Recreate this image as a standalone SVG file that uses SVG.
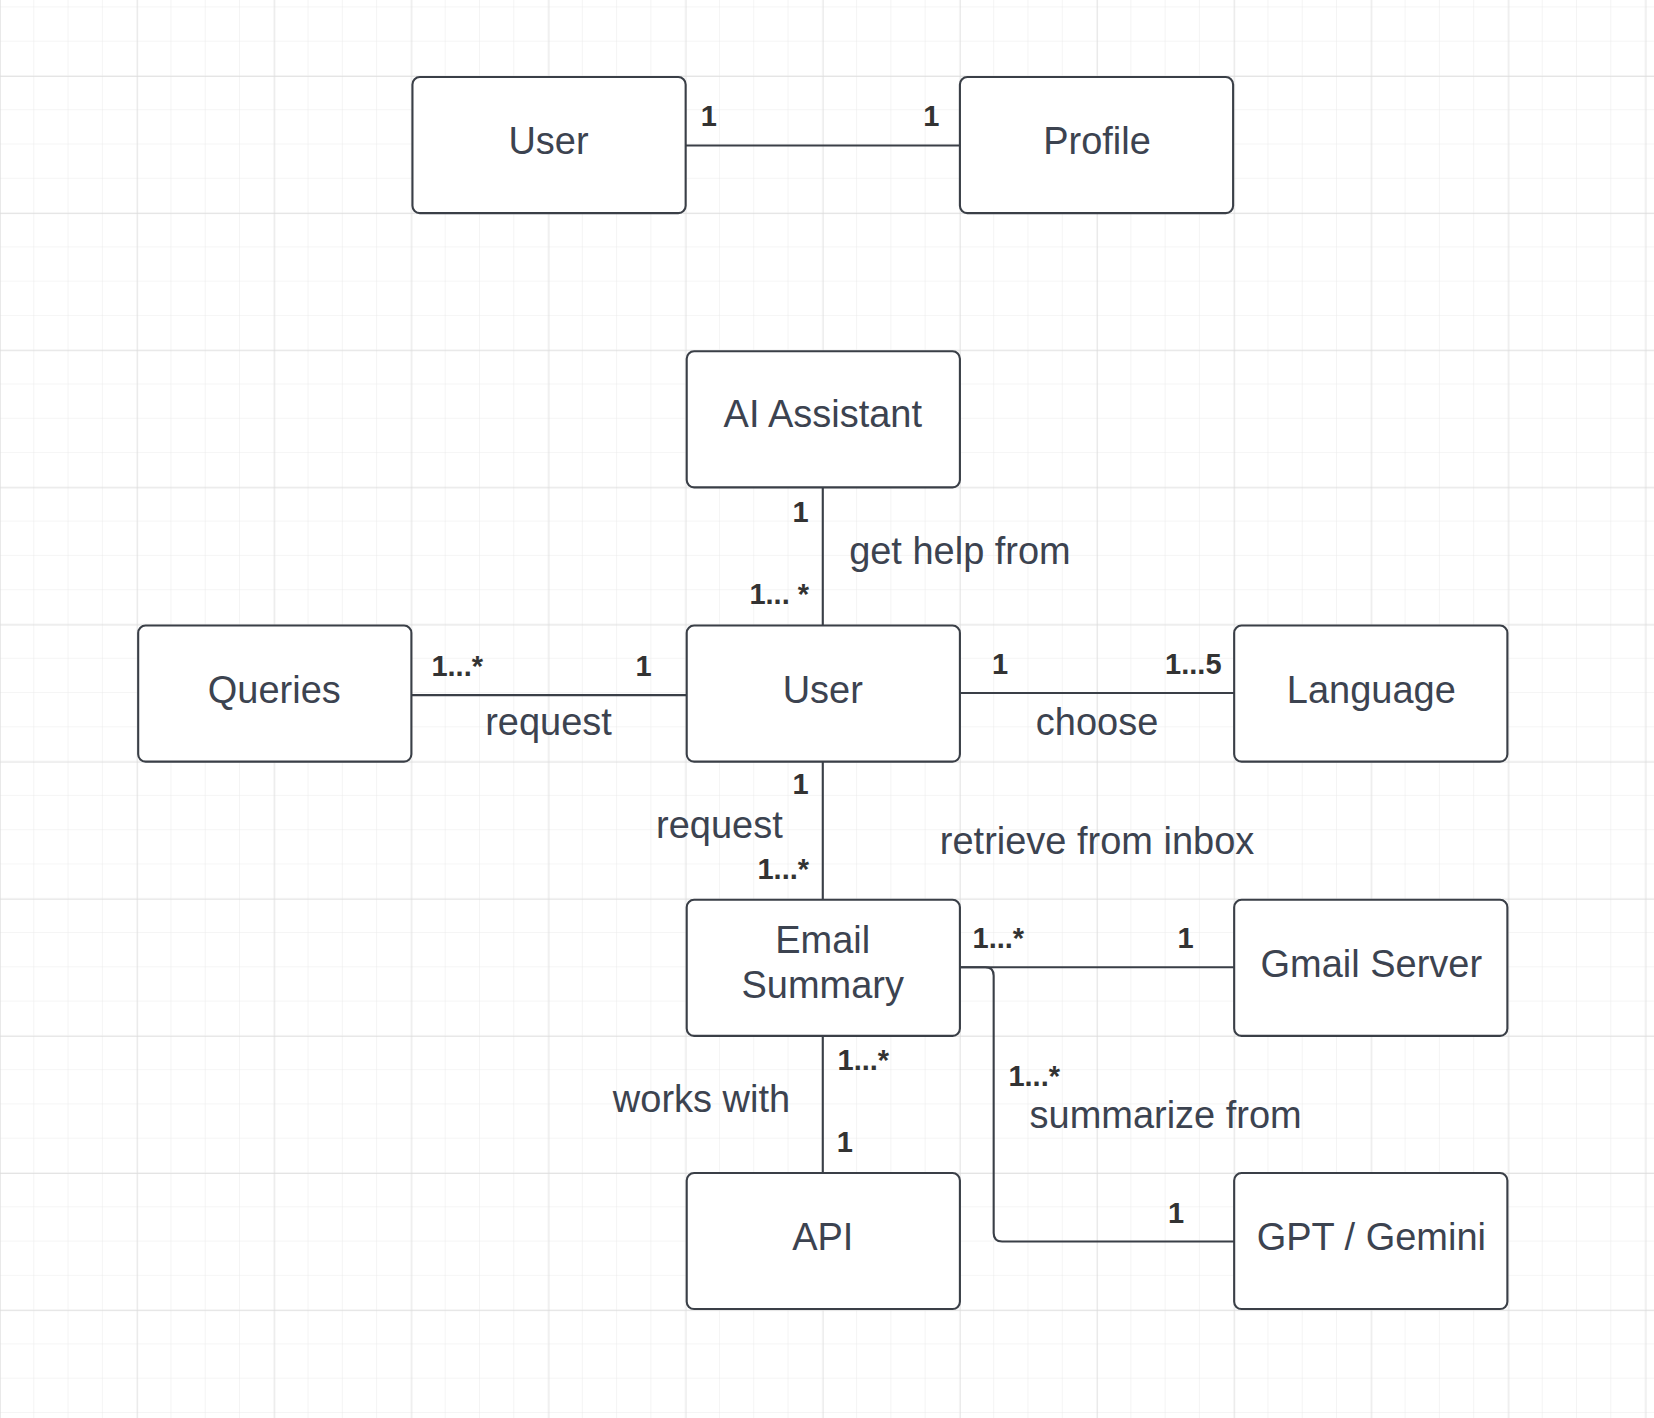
<svg xmlns="http://www.w3.org/2000/svg" width="1654" height="1418" viewBox="0 0 1654 1418">
<defs>
<pattern id="minor" patternUnits="userSpaceOnUse" x="0" y="7" width="32.5" height="32.5">
<path d="M32.5 0V32.5M0 32.5H32.5" fill="none" stroke="#ebebeb" stroke-width="1"/>
</pattern>
<pattern id="major" patternUnits="userSpaceOnUse" x="0" y="72" width="130" height="130">
<path d="M0 0V130M0 0H130" fill="none" stroke="#dcdcdc" stroke-width="1.2"/>
</pattern>
</defs>
<style>
.box{fill:#ffffff;stroke:#3a3f47;stroke-width:2}
.name{font-family:"Liberation Sans",Arial,sans-serif;font-size:36px;fill:#3c4350;text-anchor:middle}
.lbl{font-family:"Liberation Sans",Arial,sans-serif;font-size:36px;fill:#3c4350}
.m{font-family:"Liberation Sans",Arial,sans-serif;font-size:27.5px;font-weight:bold;fill:#333333}
.c{fill:none;stroke:#3a3f47;stroke-width:2}
</style>
<rect width="1654" height="1418" fill="#ffffff"/>
<g transform="scale(1.05485)">
<rect width="1568" height="1345" fill="url(#minor)"/>
<rect width="1568" height="1345" fill="url(#major)"/>

<g id="connectors">
<path class="c" d="M650 138H910"/>
<path class="c" d="M780 462V593"/>
<path class="c" d="M390 659H651"/>
<path class="c" d="M910 657H1170"/>
<path class="c" d="M780 722V853"/>
<path class="c" d="M910 917H934Q942 917 942 925V1169Q942 1177 950 1177H1170"/>
<path class="c" d="M910 917H1170"/>
<path class="c" d="M780 982V1112"/>
</g>

<g id="labels">
<text class="m" x="672" y="119" text-anchor="middle">1</text>
<text class="m" x="883" y="119" text-anchor="middle">1</text>
<text class="m" x="759" y="495" text-anchor="middle">1</text>
<text class="m" x="767" y="573" text-anchor="end">1... *</text>
<text class="lbl" x="805" y="535">get help from</text>
<text class="m" x="409" y="641">1...*</text>
<text class="m" x="610" y="641" text-anchor="middle">1</text>
<text class="lbl" x="520" y="697" text-anchor="middle">request</text>
<text class="m" x="948" y="639" text-anchor="middle">1</text>
<text class="m" x="1158" y="639" text-anchor="end">1...5</text>
<text class="lbl" x="1040" y="697" text-anchor="middle">choose</text>
<text class="m" x="759" y="753" text-anchor="middle">1</text>
<text class="lbl" x="742" y="794" text-anchor="end">request</text>
<text class="m" x="767" y="833" text-anchor="end">1...*</text>
<text class="lbl" x="1040" y="810" text-anchor="middle">retrieve from inbox</text>
<text class="m" x="922" y="899">1...*</text>
<text class="m" x="1124" y="899" text-anchor="middle">1</text>
<text class="m" x="794" y="1014">1...*</text>
<text class="lbl" x="749" y="1054" text-anchor="end">works with</text>
<text class="m" x="801" y="1092" text-anchor="middle">1</text>
<text class="m" x="956" y="1030">1...*</text>
<text class="lbl" x="976" y="1069">summarize from</text>
<text class="m" x="1115" y="1159" text-anchor="middle">1</text>
</g>

<g id="user-top"><rect class="box" x="391" y="73" width="259" height="129" rx="7"/><text class="name" x="520" y="146">User</text></g>
<g id="profile"><rect class="box" x="910" y="73" width="259" height="129" rx="7"/><text class="name" x="1040" y="146">Profile</text></g>
<g id="ai-assistant"><rect class="box" x="651" y="333" width="259" height="129" rx="7"/><text class="name" x="780" y="405">AI Assistant</text></g>
<g id="queries"><rect class="box" x="131" y="593" width="259" height="129" rx="7"/><text class="name" x="260" y="666">Queries</text></g>
<g id="user"><rect class="box" x="651" y="593" width="259" height="129" rx="7"/><text class="name" x="780" y="666">User</text></g>
<g id="language"><rect class="box" x="1170" y="593" width="259" height="129" rx="7"/><text class="name" x="1300" y="666">Language</text></g>
<g id="email-summary"><rect class="box" x="651" y="853" width="259" height="129" rx="7"/><text class="name" x="780" y="903">Email</text><text class="name" x="780" y="946">Summary</text></g>
<g id="gmail-server"><rect class="box" x="1170" y="853" width="259" height="129" rx="7"/><text class="name" x="1300" y="926">Gmail Server</text></g>
<g id="api"><rect class="box" x="651" y="1112" width="259" height="129" rx="7"/><text class="name" x="780" y="1185">API</text></g>
<g id="gpt-gemini"><rect class="box" x="1170" y="1112" width="259" height="129" rx="7"/><text class="name" x="1300" y="1185">GPT / Gemini</text></g>
</g>
</svg>
